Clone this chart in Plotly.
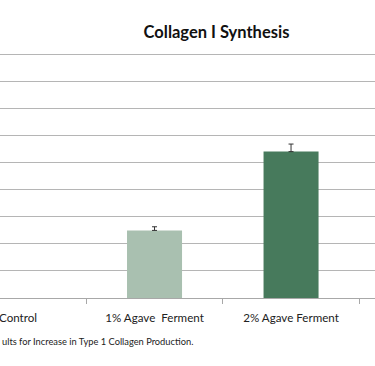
import plotly.graph_objects as go

categories = ["Control", "1% Agave  Ferment", "2% Agave Ferment"]
values = [None, 50, 108.3]
errors = [None, 2.7, 5.6]
bar_colors = ["#a9c0b0", "#a9c0b0", "#477a5c"]
title_text = "Collagen I Synthesis"
caption_text = "ults for Increase in Type 1 Collagen Production."

fig = go.Figure()
fig.add_trace(go.Bar(
    x=categories, y=values,
    marker=dict(color=bar_colors, line=dict(width=0)),
    width=0.403,
    error_y=dict(type="data", array=errors, symmetric=False, arrayminus=[0, 0, 0],
                 color="#333333", thickness=1, width=2.5),
))

fig.update_layout(
    width=375, height=366,
    margin=dict(l=0, r=0, t=52.3, b=67.5, autoexpand=False),
    paper_bgcolor="white", plot_bgcolor="white",
    showlegend=False,
    font=dict(family="Lato, Open Sans, sans-serif", color="#222222"),
    title=dict(text="<b>" + title_text + "</b>", x=216.5 / 375, xanchor="center",
               y=1 - 32.5 / 366, yanchor="middle",
               font=dict(size=16.5, color="#111111")),
    xaxis=dict(
        type="category", categoryorder="array", categoryarray=categories,
        range=[-0.132, 2.615], showgrid=False, automargin=False,
        showline=True, linecolor="#a8a8a8", linewidth=1.2,
        ticks="outside", tickson="boundaries", ticklen=5, tickcolor="#a8a8a8",
        tickfont=dict(size=11.6, color="#222222"), ticklabelstandoff=9,
        fixedrange=True,
    ),
    yaxis=dict(
        range=[0, 182], dtick=20, showgrid=True, gridcolor="#b5b5b5", gridwidth=1.2,
        showticklabels=False, zeroline=False, showline=False, ticks="",
        automargin=False, fixedrange=True,
    ),
    annotations=[dict(
        text=caption_text, xref="paper", yref="paper", x=0, y=(298.5 - 342) / 246.2,
        xanchor="left", yanchor="middle", showarrow=False,
        font=dict(size=9.3, color="#222222"),
    )],
)

fig.write_html("out.html", post_script="document.body.style.margin='0';",
               config={"displayModeBar": False})
